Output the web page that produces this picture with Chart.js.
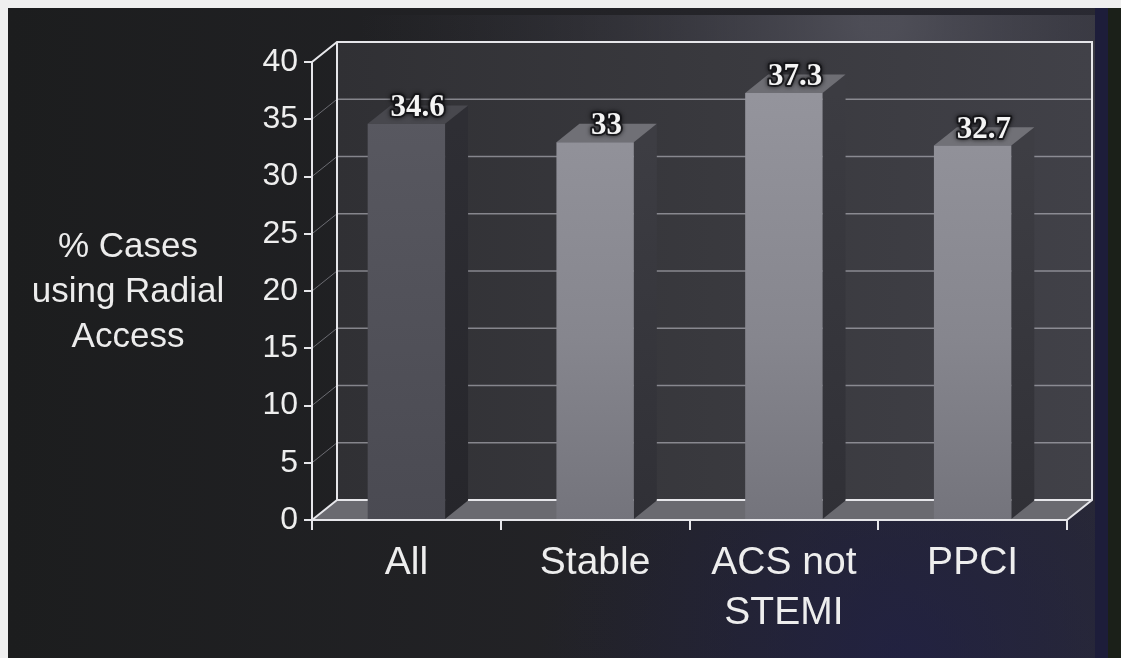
<!DOCTYPE html>
<html>
<head>
<meta charset="utf-8">
<style>
  html, body { margin: 0; padding: 0; background: #1e1e22; }
  #wrap { width: 1121px; height: 658px; position: relative; }
  canvas { display: block; }
</style>
<script src="https://cdn.jsdelivr.net/npm/chart.js@4.4.1/dist/chart.umd.min.js"></script>
</head>
<body>
<div id="wrap"><canvas id="chart" width="1121" height="658"></canvas></div>
<script>
// Share of procedures done through the radial artery, by presentation
const categories = ['All', 'Stable', ['ACS not', 'STEMI'], 'PPCI'];
const radialPct = [34.6, 33, 37.3, 32.7];
const yTitleLines = ['% Cases', 'using Radial', 'Access'];
const yMin = 0;
const yMax = 40;
const yStep = 5;

// Depth of the 3-D box: offset of the back wall from the front plane
const DEPTH_X = 25;
const DEPTH_Y = -20;
const BAR_DEPTH = 0.92;

const EDGE = '#e6e6ea';
const SANS = '"Liberation Sans", Arial, sans-serif';
const SERIF = '"Liberation Serif", "Times New Roman", serif';

// face colours: first bar is the darker one
const faceFront = ['#56565e', '#8b8b93', '#8a8a92', '#8d8d95'];
const faceSide  = ['#2e2e34', '#3d3d43', '#3c3c42', '#3e3e44'];
const faceTop   = ['#48484e', '#707076', '#6e6e74', '#717177'];

function frontGradient(ctx, area, i) {
  if (!area) return faceFront[i];
  const g = ctx.createLinearGradient(0, area.top, 0, area.bottom);
  if (i === 0) {
    g.addColorStop(0, '#5a5a62');
    g.addColorStop(1, '#4a4a52');
  } else {
    g.addColorStop(0, '#96969e');
    g.addColorStop(0.6, '#86868e');
    g.addColorStop(1, '#74747c');
  }
  return g;
}

const box3d = {
  id: 'box3d',
  beforeDraw(chart) {
    const ctx = chart.ctx;
    const W = chart.width, H = chart.height;
    const { left, right, top, bottom } = chart.chartArea;
    const y = chart.scales.y;

    ctx.save();
    // page: thin light margin at the top and left, dark slide behind the chart
    ctx.fillStyle = '#efefef';
    ctx.fillRect(0, 0, W, H);
    const base = ctx.createLinearGradient(8, 0, W, 0);
    base.addColorStop(0, '#1c1d1e');
    base.addColorStop(0.55, '#232327');
    base.addColorStop(1, '#2a2a33');
    ctx.fillStyle = base;
    ctx.fillRect(8, 8, W - 8, H - 8);

    const glow = ctx.createRadialGradient(880, 20, 20, 880, 20, 520);
    glow.addColorStop(0, 'rgba(90,90,100,0.75)');
    glow.addColorStop(0.6, 'rgba(70,70,80,0.3)');
    glow.addColorStop(1, 'rgba(60,60,70,0)');
    ctx.fillStyle = glow;
    ctx.fillRect(8, 15, 1087, H - 15);

    const navy = ctx.createRadialGradient(900, 660, 10, 900, 660, 360);
    navy.addColorStop(0, 'rgba(32,32,72,0.7)');
    navy.addColorStop(1, 'rgba(32,32,72,0)');
    ctx.fillStyle = navy;
    ctx.fillRect(8, 8, W - 8, H - 8);

    // dark strip along the right edge
    ctx.fillStyle = '#1d1d3a';
    ctx.fillRect(1095, 8, 13, H - 8);
    ctx.fillStyle = '#1b2019';
    ctx.fillRect(1108, 8, W - 1108, H - 8);

    const yTop = y.getPixelForValue(yMax);
    const yBot = y.getPixelForValue(yMin);

    // back wall
    const wall = ctx.createLinearGradient(left + DEPTH_X, 0, right + DEPTH_X, 0);
    wall.addColorStop(0, '#303034');
    wall.addColorStop(0.5, '#39393e');
    wall.addColorStop(1, '#414148');
    ctx.fillStyle = wall;
    ctx.fillRect(left + DEPTH_X, yTop + DEPTH_Y, right - left, yBot - yTop);

    // grid lines on the back wall and the left side wall
    for (let v = yMin + yStep; v < yMax; v += yStep) {
      const py = y.getPixelForValue(v);
      ctx.strokeStyle = 'rgba(190,190,198,0.6)';
      ctx.lineWidth = 1.5;
      ctx.beginPath();
      ctx.moveTo(left + DEPTH_X, py + DEPTH_Y);
      ctx.lineTo(right + DEPTH_X, py + DEPTH_Y);
      ctx.stroke();
      ctx.strokeStyle = 'rgba(170,170,178,0.55)';
      ctx.lineWidth = 1;
      ctx.beginPath();
      ctx.moveTo(left, py);
      ctx.lineTo(left + DEPTH_X, py + DEPTH_Y);
      ctx.stroke();
    }

    // floor
    ctx.fillStyle = '#6a6a70';
    ctx.beginPath();
    ctx.moveTo(left, yBot);
    ctx.lineTo(right, yBot);
    ctx.lineTo(right + DEPTH_X, yBot + DEPTH_Y);
    ctx.lineTo(left + DEPTH_X, yBot + DEPTH_Y);
    ctx.closePath();
    ctx.fill();

    // box edges
    ctx.strokeStyle = EDGE;
    ctx.lineWidth = 2;
    ctx.beginPath();
    ctx.moveTo(left, yTop);
    ctx.lineTo(left + DEPTH_X, yTop + DEPTH_Y);
    ctx.lineTo(right + DEPTH_X, yTop + DEPTH_Y);
    ctx.lineTo(right + DEPTH_X, yBot + DEPTH_Y);
    ctx.lineTo(right, yBot);
    ctx.moveTo(left + DEPTH_X, yTop + DEPTH_Y);
    ctx.lineTo(left + DEPTH_X, yBot + DEPTH_Y);
    ctx.lineTo(right + DEPTH_X, yBot + DEPTH_Y);
    ctx.moveTo(left, yBot);
    ctx.lineTo(left + DEPTH_X, yBot + DEPTH_Y);
    ctx.stroke();

    // axis title, set horizontally in three lines
    ctx.fillStyle = '#ececec';
    ctx.font = '35px ' + SANS;
    ctx.textAlign = 'center';
    ctx.textBaseline = 'alphabetic';
    const baselines = [257, 302, 347];
    yTitleLines.forEach((t, i) => ctx.fillText(t, 128, baselines[i]));
    ctx.restore();
  },
  beforeDatasetsDraw(chart) {
    const ctx = chart.ctx;
    const meta = chart.getDatasetMeta(0);
    const dx = DEPTH_X * BAR_DEPTH, dy = DEPTH_Y * BAR_DEPTH;
    ctx.save();
    meta.data.forEach((bar, i) => {
      const l = bar.x - bar.width / 2, r = bar.x + bar.width / 2;
      const t = bar.y, b = bar.base;
      // side face
      const side = ctx.createLinearGradient(0, t, 0, b);
      side.addColorStop(0, faceSide[i]);
      side.addColorStop(1, i === 0 ? '#26262b' : '#303036');
      ctx.fillStyle = side;
      ctx.beginPath();
      ctx.moveTo(r, t);
      ctx.lineTo(r + dx, t + dy);
      ctx.lineTo(r + dx, b + dy);
      ctx.lineTo(r, b);
      ctx.closePath();
      ctx.fill();
      // top face
      ctx.fillStyle = faceTop[i];
      ctx.beginPath();
      ctx.moveTo(l, t);
      ctx.lineTo(r, t);
      ctx.lineTo(r + dx, t + dy);
      ctx.lineTo(l + dx, t + dy);
      ctx.closePath();
      ctx.fill();
    });
    ctx.restore();
  },
  afterDatasetsDraw(chart) {
    const ctx = chart.ctx;
    const meta = chart.getDatasetMeta(0);
    const values = chart.data.datasets[0].data;
    ctx.save();
    ctx.font = 'bold 31px ' + SERIF;
    ctx.textAlign = 'center';
    ctx.textBaseline = 'alphabetic';
    meta.data.forEach((bar, i) => {
      const tx = bar.x + DEPTH_X * 0.45;
      const ty = bar.y - 8;
      const txt = String(values[i]);
      ctx.lineJoin = 'round';
      ctx.lineWidth = 4;
      ctx.strokeStyle = 'rgba(20,20,24,0.85)';
      ctx.shadowColor = 'rgba(0,0,0,0.8)';
      ctx.shadowBlur = 4;
      ctx.strokeText(txt, tx, ty);
      ctx.shadowBlur = 0;
      ctx.fillStyle = '#f4f4f4';
      ctx.fillText(txt, tx, ty);
    });
    ctx.restore();
  }
};

new Chart(document.getElementById('chart'), {
  type: 'bar',
  data: {
    labels: categories,
    datasets: [{
      data: radialPct,
      backgroundColor: (c) => frontGradient(c.chart.ctx, c.chart.chartArea, c.dataIndex),
      borderWidth: 0,
      barPercentage: 1,
      categoryPercentage: 0.41
    }]
  },
  options: {
    responsive: false,
    animation: false,
    events: [],
    layout: { padding: { left: 0, right: 54, top: 62, bottom: 0 } },
    plugins: { legend: { display: false }, tooltip: { enabled: false } },
    scales: {
      x: {
        offset: true,
        afterFit(scale) { scale.height = 138; },
        grid: {
          offset: true,
          drawOnChartArea: false,
          drawTicks: true,
          tickLength: 10,
          color: EDGE,
          lineWidth: 2
        },
        border: { display: true, color: EDGE, width: 2 },
        ticks: {
          color: '#eeeeee',
          font: { family: SANS, size: 39, lineHeight: 1.28 },
          padding: 8,
          maxRotation: 0,
          autoSkip: false
        }
      },
      y: {
        min: yMin,
        max: yMax,
        afterFit(scale) { scale.width = 312; },
        grid: {
          drawOnChartArea: false,
          drawTicks: true,
          tickLength: 8,
          color: EDGE,
          lineWidth: 2
        },
        border: { display: true, color: EDGE, width: 2 },
        ticks: {
          stepSize: yStep,
          color: '#eeeeee',
          font: { family: SANS, size: 32 },
          padding: 6
        }
      }
    }
  },
  plugins: [box3d]
});
</script>
</body>
</html>
